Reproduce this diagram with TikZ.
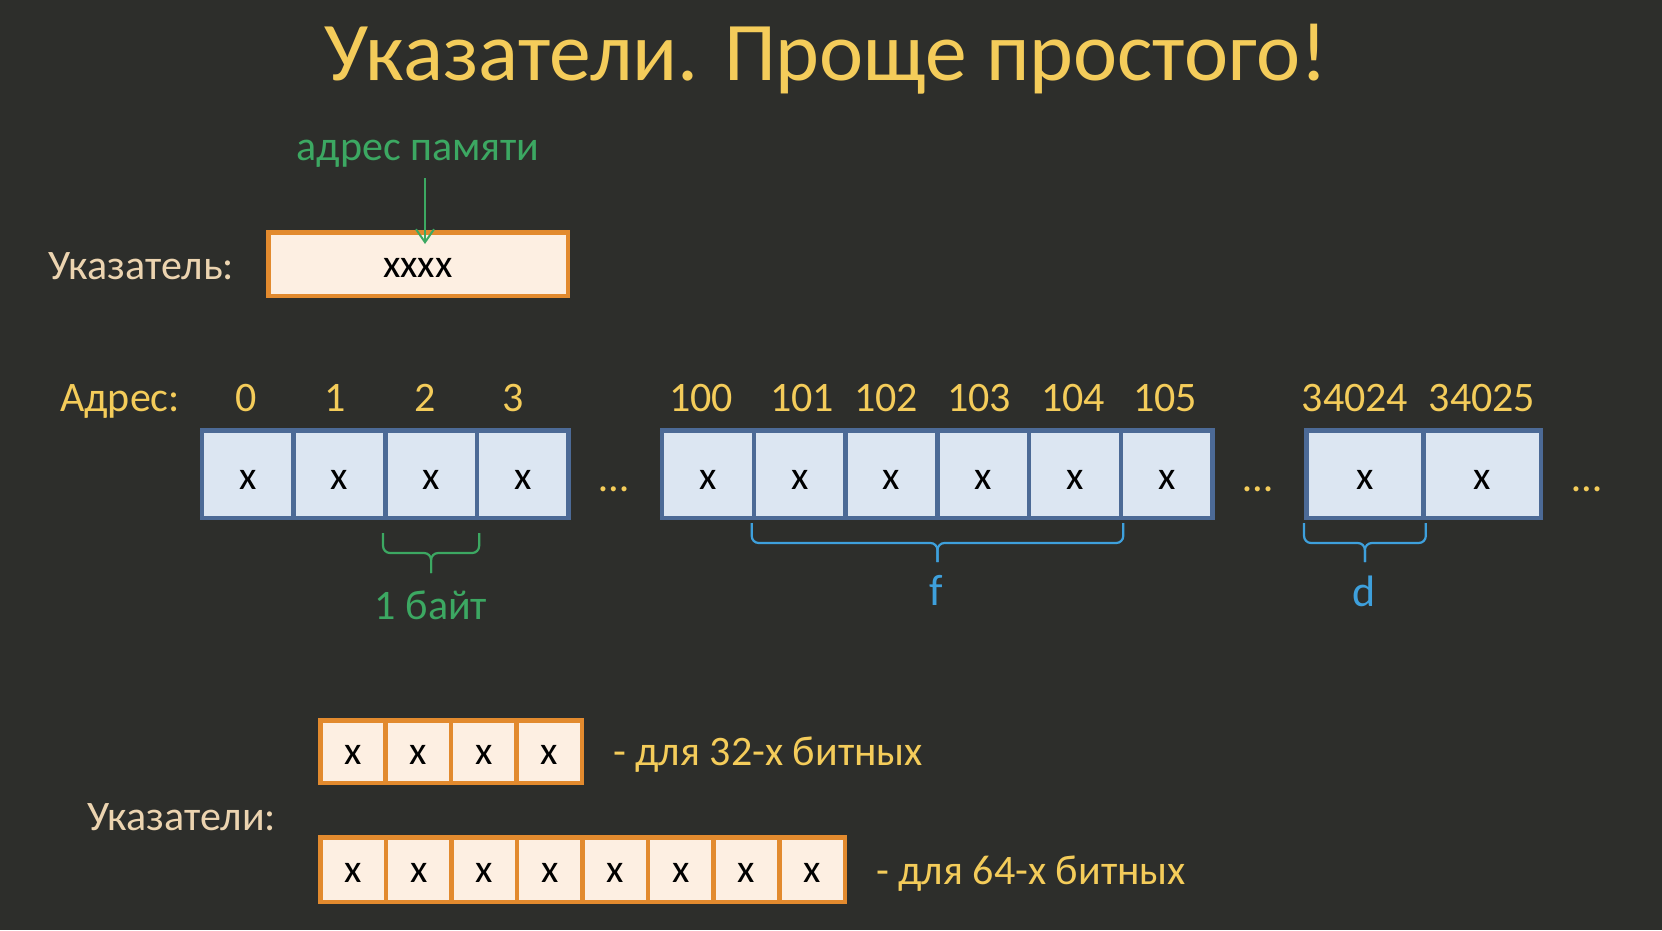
\documentclass[tikz,border=0pt]{standalone}
\usepackage{fontspec}
\setmainfont{Carlito}
\usetikzlibrary{arrows.meta,calc}

\definecolor{bgdark}{RGB}{45,46,43}
\definecolor{titleyellow}{RGB}{244,204,90}
\definecolor{labelbeige}{RGB}{236,212,176}
\definecolor{notegreen}{RGB}{60,168,98}
\definecolor{braceblue}{RGB}{62,160,220}
\definecolor{ptrorange}{RGB}{226,138,46}
\definecolor{ptrfill}{RGB}{253,239,226}
\definecolor{memfill}{RGB}{220,230,242}
\definecolor{memedge}{RGB}{76,106,150}

\newcommand\fsz[1]{\fontsize{#1}{#1}\selectfont}

\begin{document}
\begin{tikzpicture}[x=1pt,y=-1pt,
  memcell/.style={draw=memedge, fill=memfill, line width=4.5pt, inner sep=0pt,
    minimum height=87.5pt, font=\fsz{40}, text=black, text height=31pt, text depth=0pt},
  ptrcell/.style={draw=ptrorange, fill=ptrfill, line width=4.5pt, inner sep=0pt,
    font=\fsz{40}, text=black, text height=25pt, text depth=0pt},
  yellowtxt/.style={text=titleyellow, font=\fsz{42}, inner sep=0pt},
  beigetxt/.style={text=labelbeige, font=\fsz{42}, inner sep=0pt},
  greentxt/.style={text=notegreen, font=\fsz{42}, inner sep=0pt},
  bluetxt/.style={text=braceblue, font=\fsz{44}, inner sep=0pt},
  bracestyle/.style={line width=2.2pt, rounded corners=7pt},
]
% background and page size
\fill[bgdark] (0,0) rectangle (1662,930);
\useasboundingbox (0,0) rectangle (1662,930);

% title
\node[anchor=base, text=titleyellow, font=\fsz{83.5}, inner sep=0pt] (title) at (826,80)
  {Указатели. Проще простого!};

% single pointer
\node[anchor=base west, beigetxt] (ptrlbl) at (48,279) {Указатель:};
\node[ptrcell, minimum width=299.5pt, minimum height=63.5pt, text height=27pt] (ptr) at (418,264) {xxxx};
\node[anchor=base, greentxt] (addrlbl) at (418,160) {адрес памяти};
\coordinate (arrS) at (425,178);
\coordinate (arrE) at (425,244);
\draw[notegreen, line width=2pt, -{Straight Barb[length=13pt,width=18pt,line width=2pt]}]
  (arrS) -- (arrE);

% memory row
\node[anchor=base west, yellowtxt] (adrlbl) at (60,411) {Адрес:};
\foreach \i/\lab/\lx in {0/0/246,1/1/335,2/2/425,3/3/513}{
  \node[memcell, minimum width=91.6pt] (g1c\i) at ({247.9+91.6*\i},474) {x};
  \node[anchor=base, yellowtxt] (g1n\i) at (\lx,411) {\lab};
}
\foreach \i/\lab/\lx in {0/100/701,1/101/802,2/102/886,3/103/979,4/104/1073,5/105/1165}{
  \node[memcell, minimum width=91.75pt] (g2c\i) at ({708.1+91.75*\i},474) {x};
  \node[anchor=base, yellowtxt] (g2n\i) at (\lx,411) {\lab};
}
\foreach \i/\lab/\lx in {0/34024/1355,1/34025/1482}{
  \node[memcell, minimum width=117.25pt] (g3c\i) at ({1364.9+117.25*\i},474) {x};
  \node[anchor=base, yellowtxt] (g3n\i) at (\lx,411) {\lab};
}
\node[anchor=base, yellowtxt] (dots1) at (614,491) {…};
\node[anchor=base, yellowtxt] (dots2) at (1258,491) {…};
\node[anchor=base, yellowtxt] (dots3) at (1587,491) {…};

% one byte
\coordinate (bL) at ($(g1c2.south west)+(0,13)$);
\coordinate (bR) at ($(g1c2.south east)+(0,13)$);
\coordinate (bM) at ($(bL)!0.5!(bR)+(0,20)$);
\draw[bracestyle, notegreen] (bL) -- ++(0,20) -- (bM) -- ++(0,20);
\draw[bracestyle, notegreen] (bR) -- ++(0,20) -- (bM) -- ++(0,20);
\node[anchor=base, greentxt] (bytelbl) at (431,619) {1 байт};

% float f
\coordinate (fL) at ($(g2c1.south west)+(0,3)$);
\coordinate (fR) at ($(g2c4.south east)+(0,3)$);
\coordinate (fM) at ($(fL)!0.5!(fR)+(0,20)$);
\draw[bracestyle, braceblue] (fL) -- ++(0,20) -- (fM) -- ++(0,19);
\draw[bracestyle, braceblue] (fR) -- ++(0,20) -- (fM) -- ++(0,19);
\node[anchor=base, bluetxt] (flbl) at (936,605) {f};

% double d
\coordinate (dL) at ($(g3c0.south west)+(0,3)$);
\coordinate (dR) at ($(g3c0.south east)+(0,3)$);
\coordinate (dM) at ($(dL)!0.5!(dR)+(0,20)$);
\draw[bracestyle, braceblue] (dL) -- ++(0,20) -- (dM) -- ++(0,19);
\draw[bracestyle, braceblue] (dR) -- ++(0,20) -- (dM) -- ++(0,19);
\node[anchor=base, bluetxt] (dlbl) at (1364,606) {d};

% pointer sizes
\node[anchor=base west, beigetxt] (ptrslbl) at (87,830) {Указатели:};
\foreach \i in {0,...,3}{
  \node[ptrcell, minimum width=65.4pt, minimum height=62.5pt] (p32c\i) at ({353+65.4*\i},751.5) {x};
}
\foreach \i in {0,...,7}{
  \node[ptrcell, minimum width=65.56pt, minimum height=64.5pt] (p64c\i) at ({353.1+65.56*\i},869.5) {x};
}
\node[anchor=base west, yellowtxt] (l32) at (613,765) {- для 32-х битных};
\node[anchor=base west, yellowtxt] (l64) at (876,884) {- для 64-х битных};
\end{tikzpicture}
\end{document}
